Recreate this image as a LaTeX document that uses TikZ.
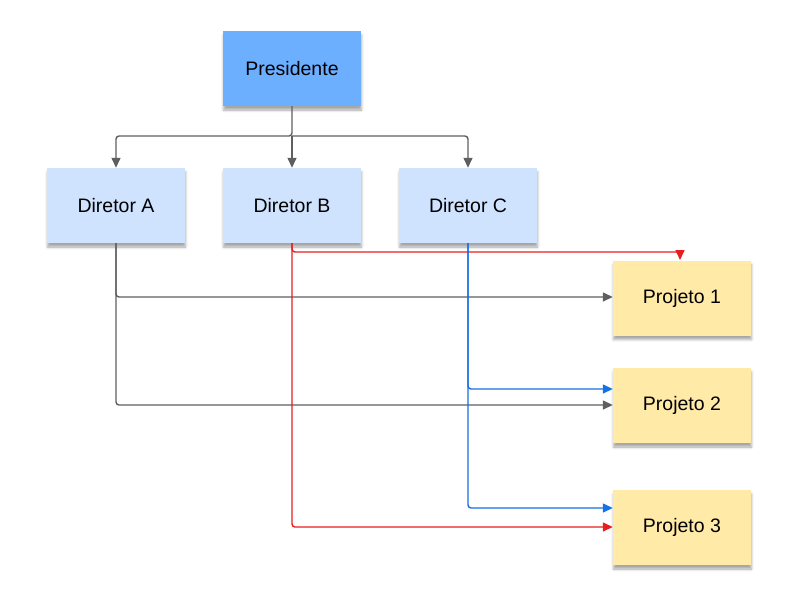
\documentclass[tikz,border=0pt]{standalone}
\usepackage{fontspec}
\setmainfont{Liberation Sans}
\usetikzlibrary{arrows.meta,shadows.blur}
\definecolor{presblue}{RGB}{108,175,255}
\definecolor{dirblue}{RGB}{207,227,255}
\definecolor{projyel}{RGB}{255,234,168}
\definecolor{lgray}{RGB}{95,95,95}
\definecolor{lred}{RGB}{232,30,30}
\definecolor{lblue}{RGB}{22,112,230}
\tikzset{
  box/.style={minimum width=138pt,minimum height=75pt,inner sep=0pt,font=\fontsize{19.5}{22}\selectfont,
    blur shadow={shadow xshift=0.5pt,shadow yshift=-4pt,shadow blur radius=2.5pt,shadow opacity=35}},
  pres/.style={box,fill=presblue},
  dir/.style={box,fill=dirblue},
  proj/.style={box,fill=projyel},
  conn/.style={line width=1.4pt,rounded corners=3pt,-{Triangle[length=10pt,width=9pt]}},
}
\begin{document}
\begin{tikzpicture}[x=1pt,y=-1pt]
\useasboundingbox (0,0) rectangle (800,606);
\node[pres] (P) at (292,68.5) {Presidente};
\node[dir] (A) at (116,205.5) {Diretor A};
\node[dir] (B) at (292,205.5) {Diretor B};
\node[dir] (C) at (468,205.5) {Diretor C};
\node[proj] (J1) at (682,298) {Projeto 1};
\node[proj] (J2) at (682,405.5) {Projeto 2};
\node[proj] (J3) at (682,527.5) {Projeto 3};
\coordinate (hub) at (292,136);
\draw[conn,lgray] (P.south) -- (hub) -| (A.north);
\draw[conn,lgray] (hub) -- (B.north);
\draw[conn,lgray] (hub) -| (C.north);
\draw[conn,lgray] (A.south) |- (J1.west |- 0,297);
\draw[conn,lgray] (A.south) |- (J2.west |- 0,405);
\draw[conn,lred] (B.south) |- (680,252) -- (680,260);
\draw[conn,lred] (B.south) |- (J3.west |- 0,527);
\draw[conn,lblue] (C.south) |- (J2.west |- 0,389);
\draw[conn,lblue] (C.south) |- (J3.west |- 0,508);
\end{tikzpicture}
\end{document}
